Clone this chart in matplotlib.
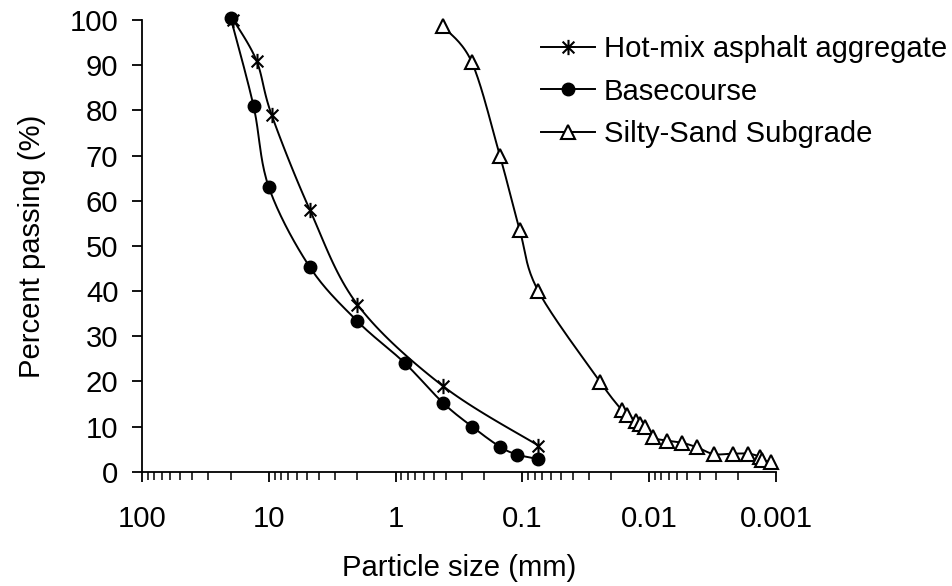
import numpy as np
import matplotlib
matplotlib.use('Agg')
import matplotlib.pyplot as plt
from matplotlib.path import Path
from matplotlib.ticker import LogLocator, FixedLocator, FixedFormatter, NullFormatter

# sieve / hydrometer results: particle size (mm) vs percent passing
hotmix_size = [19, 12.5, 9.5, 4.75, 2.0, 0.425, 0.075]
hotmix_pass = [100, 91, 79, 58, 37, 19, 5.8]

base_size = [20, 13.2, 10, 4.75, 2.0, 0.85, 0.425, 0.25, 0.15, 0.11, 0.075]
base_pass = [100.5, 81, 63, 45.3, 33.3, 24.1, 15.3, 10, 5.5, 3.8, 2.8]

silt_size = [0.425, 0.25, 0.15, 0.105, 0.075, 0.0244, 0.0165, 0.0150, 0.0126,
             0.0118, 0.0108, 0.0094, 0.0073, 0.0055, 0.0042, 0.0031, 0.0022,
             0.00165, 0.00134, 0.0013, 0.0011]
silt_pass = [98.6, 90.6, 69.8, 53.5, 40, 19.9, 13.7, 12.5, 11.3,
             10.6, 10.0, 7.6, 6.9, 6.4, 5.4, 3.9, 4.0,
             4.0, 3.3, 2.6, 2.2]

x_ticks = [100, 10, 1, 0.1, 0.01, 0.001]
x_tick_labels = ['100', '10', '1', '0.1', '0.01', '0.001']


def smooth(xs, ys, n=20):
    # Catmull-Rom curve through the points, worked out in log10(x)
    lx = np.log10(xs)
    y = np.asarray(ys, dtype=float)
    px = np.concatenate([[lx[0]], lx, [lx[-1]]])
    py = np.concatenate([[y[0]], y, [y[-1]]])
    outx, outy = [lx[0]], [y[0]]
    t = np.linspace(0, 1, n + 1)[1:]
    for i in range(1, len(px) - 2):
        for p, out in ((px, outx), (py, outy)):
            p0, p1, p2, p3 = p[i - 1], p[i], p[i + 1], p[i + 2]
            c1 = p1 + (p2 - p0) / 6
            c2 = p2 - (p3 - p1) / 6
            b = ((1 - t) ** 3 * p1 + 3 * (1 - t) ** 2 * t * c1
                 + 3 * (1 - t) * t ** 2 * c2 + t ** 3 * p2)
            out.extend(b)
    return 10 ** np.array(outx), np.array(outy)


# asterisk marker: X plus a vertical bar
star = Path([(-1, -1), (1, 1), (-1, 1), (1, -1), (0, -1.3), (0, 1.3)],
            [Path.MOVETO, Path.LINETO, Path.MOVETO, Path.LINETO, Path.MOVETO, Path.LINETO])

plt.rcParams['font.family'] = ['Liberation Sans', 'DejaVu Sans']
plt.rcParams['font.size'] = 21.1

fig = plt.figure(figsize=(9.53, 5.86), dpi=100)
ax = fig.add_axes([142 / 953, 1 - 471.7 / 586, (776 - 142) / 953, (471.7 - 20) / 586])

lw = 1.4
series = [
    (hotmix_size, hotmix_pass, 'Hot-mix asphalt aggregate',
     dict(marker=star, markersize=11, markeredgewidth=1.5, markerfacecolor='none')),
    (base_size, base_pass, 'Basecourse',
     dict(marker='o', markersize=9, markerfacecolor='black')),
    (silt_size, silt_pass, 'Silty-Sand Subgrade',
     dict(marker='^', markersize=10, markerfacecolor='white', markeredgewidth=1.5)),
]
for xs, ys, name, style in series:
    sx, sy = smooth(xs, ys)
    ax.plot(sx, sy, color='black', linewidth=lw, clip_on=False, zorder=2)
    ax.plot(xs, ys, linestyle='none', color='black', markeredgecolor='black',
            clip_on=False, zorder=3, **style)
    # legend proxy
    ax.plot([], [], color='black', linewidth=lw, markeredgecolor='black', label=name, **style)

ax.set_xscale('log')
ax.set_xlim(100, 0.001)
ax.set_ylim(0, 100)
ax.set_yticks(np.arange(0, 101, 10))

ax.xaxis.set_major_locator(FixedLocator(x_ticks))
ax.xaxis.set_major_formatter(FixedFormatter(x_tick_labels))
ax.xaxis.set_minor_locator(LogLocator(base=10, subs=np.arange(2, 10)))
ax.xaxis.set_minor_formatter(NullFormatter())

ax.spines['top'].set_visible(False)
ax.spines['right'].set_visible(False)
for s in ('left', 'bottom'):
    ax.spines[s].set_linewidth(1.3)

ax.tick_params(axis='x', which='major', direction='out', length=7, width=1.3, pad=17)
ax.tick_params(axis='x', which='minor', direction='out', length=5.5, width=1.1)
ax.tick_params(axis='y', which='major', direction='out', length=7, width=1.3, pad=10)

ax.set_xlabel('Particle size (mm)', labelpad=15)
ax.set_ylabel('Percent passing (%)', labelpad=17)

ax.legend(loc='upper left', bbox_to_anchor=(541 / 953, 1 - 35 / 586),
          bbox_transform=fig.transFigure, frameon=False, borderpad=0,
          borderaxespad=0, handlelength=1.85, handletextpad=0.3, labelspacing=0.5)

fig.savefig('out.png', dpi=100)
